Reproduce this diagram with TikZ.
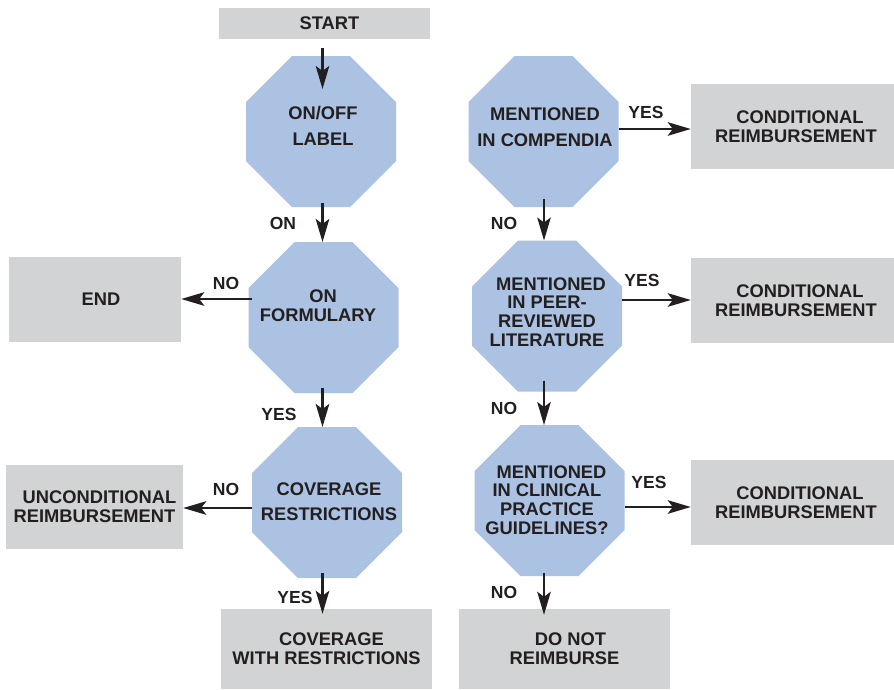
\documentclass[tikz,border=0pt]{standalone}
\usepackage{fontspec}
\setmainfont{Liberation Sans}
\usetikzlibrary{arrows.meta,calc}
\definecolor{boxgray}{HTML}{D1D3D4}
\definecolor{octblue}{HTML}{ABC2E2}
\definecolor{ink}{HTML}{231F20}
\newcommand\octfill[1]{\fill[octblue] ($(#1.north west)+(46,0)$) -- ($(#1.north east)+(-46,0)$) -- ($(#1.north east)+(0,46)$) -- ($(#1.south east)+(0,-46)$) -- ($(#1.south east)+(-46,0)$) -- ($(#1.south west)+(46,0)$) -- ($(#1.south west)+(0,-46)$) -- ($(#1.north west)+(0,46)$) -- cycle;}
\newcommand\sh[1]{\hspace*{#1pt}}
\begin{document}
\begin{tikzpicture}[x=1pt,y=-1pt,
  txt/.style={font=\fontsize{18.3}{18.7}\selectfont\bfseries, text=ink, align=center, inner sep=0pt},
  lbl/.style={font=\fontsize{17.5}{18}\selectfont\bfseries, text=ink, inner sep=0pt},
  gbox/.style={txt, fill=boxgray, draw=none, inner sep=0pt},
  oct/.style={minimum width=150pt, minimum height=151pt, inner sep=0pt, outer sep=0pt},
  arr/.style={draw=ink, line width=2.4pt, -{Stealth[length=23pt,width=13.5pt,inset=5pt]}}]
\useasboundingbox (0,0) rectangle (894,689);
\coordinate (lx) at (322.5,0);
\coordinate (rx) at (544,0);
% boxes
\node[gbox, minimum width=211pt, minimum height=31pt] (start) at (324.5,23.5) {\sh{10}START};
\node[gbox, minimum width=172pt, minimum height=85pt] (end) at (95,299.5) {\sh{12}END};
\node[gbox, minimum width=177pt, minimum height=84pt] (uncond) at (94.5,507) {\sh{10}UNCONDITIONAL\\REIMBURSEMENT};
\node[gbox, minimum width=211pt, minimum height=80pt] (cwr) at (326.5,649) {\sh{10}COVERAGE\\WITH RESTRICTIONS};
\node[gbox, minimum width=211pt, minimum height=80pt] (dnr) at (564.5,649) {\sh{12}DO NOT\\REIMBURSE};
\node[gbox, minimum width=203pt, minimum height=85pt] (c1) at (792.5,126.5) {\sh{15}CONDITIONAL\\\sh{7}REIMBURSEMENT};
\node[gbox, minimum width=203pt, minimum height=85pt] (c2) at (792.5,300.5) {\sh{15}CONDITIONAL\\\sh{7}REIMBURSEMENT};
\node[gbox, minimum width=203pt, minimum height=85pt] (c3) at (792.5,502.5) {\sh{15}CONDITIONAL\\\sh{7}REIMBURSEMENT};
% octagons
\node[oct] (o1) at (321,131.5) {};
\node[oct] (o2) at (323.5,317.5) {};
\node[oct] (o3) at (327,502.5) {};
\node[oct] (r1) at (543.5,131.5) {};
\node[oct] (r2) at (547,316) {};
\node[oct] (r3) at (549.5,500.5) {};
\octfill{o1}\octfill{o2}\octfill{o3}\octfill{r1}\octfill{r2}\octfill{r3}
\node[txt] (o1t) at (323,126) {ON/OFF\\[7.3pt]LABEL};
\node[txt] (o2t) at (318,306) {\sh{10}ON\\FORMULARY};
\node[txt] (o3t) at (329,501.5) {COVERAGE\\[6.3pt]RESTRICTIONS};
\node[txt] (r1t) at (545,127) {MENTIONED\\[7.3pt]IN COMPENDIA};
\node[txt] (r2t) at (547,312) {\sh{8}MENTIONED\\IN PEER-\\REVIEWED\\LITERATURE};
\node[txt] (r3t) at (547,500) {\sh{9}MENTIONED\\IN CLINICAL\\PRACTICE\\GUIDELINES?};
% vertical connectors
\draw[arr] ($(start.south -| lx)+(0,9)$) -- ($(o1.north -| lx)+(0,33)$);
\draw[arr] ($(o1.south -| lx)+(0,-4)$) -- (o2.north -| lx);
\draw[arr] ($(o2.south -| lx)+(0,-5)$) -- (o3.north -| lx);
\draw[arr] ($(o3.south -| lx)+(0,-5)$) -- ($(cwr.north -| lx)+(0,5)$);
\draw[arr] ($(r1.south -| rx)+(0,-8)$) -- (r2.north -| rx);
\draw[arr] ($(r2.south -| rx)+(0,-11)$) -- (r3.north -| rx);
\draw[arr] ($(r3.south -| rx)+(0,-3)$) -- ($(dnr.north -| rx)+(0,6)$);
% horizontal connectors
\draw[arr] ($(r1.east)+(0,-2.5)$) -- ($(r1.east -| c1.west)+(0,-2.5)$);
\draw[arr] ($(r2.east)+(0,-16)$) -- ($(r2.east -| c2.west)+(0,-16)$);
\draw[arr] ($(r3.east)+(0,6.5)$) -- ($(r3.east -| c3.west)+(0,6.5)$);
\draw[arr] ($(o2.west)+(3.5,-18.5)$) -- ($(o2.west -| end.east)+(0,-18.5)$);
\draw[arr] ($(o3.west)+(0,5.5)$) -- ($(o3.west -| uncond.east)+(0,5.5)$);
% labels
\node[lbl] (l1) at (283,223) {ON};
\node[lbl] (l2) at (226,283) {NO};
\node[lbl] (l3) at (279,414) {YES};
\node[lbl] (l4) at (226,489) {NO};
\node[lbl] (l5) at (295,597) {YES};
\node[lbl] (l6) at (646,112) {YES};
\node[lbl] (l7) at (504,223) {NO};
\node[lbl] (l8) at (642,280) {YES};
\node[lbl] (l9) at (504,408) {NO};
\node[lbl] (l10) at (649,482) {YES};
\node[lbl] (l11) at (504,592) {NO};
\end{tikzpicture}
\end{document}
